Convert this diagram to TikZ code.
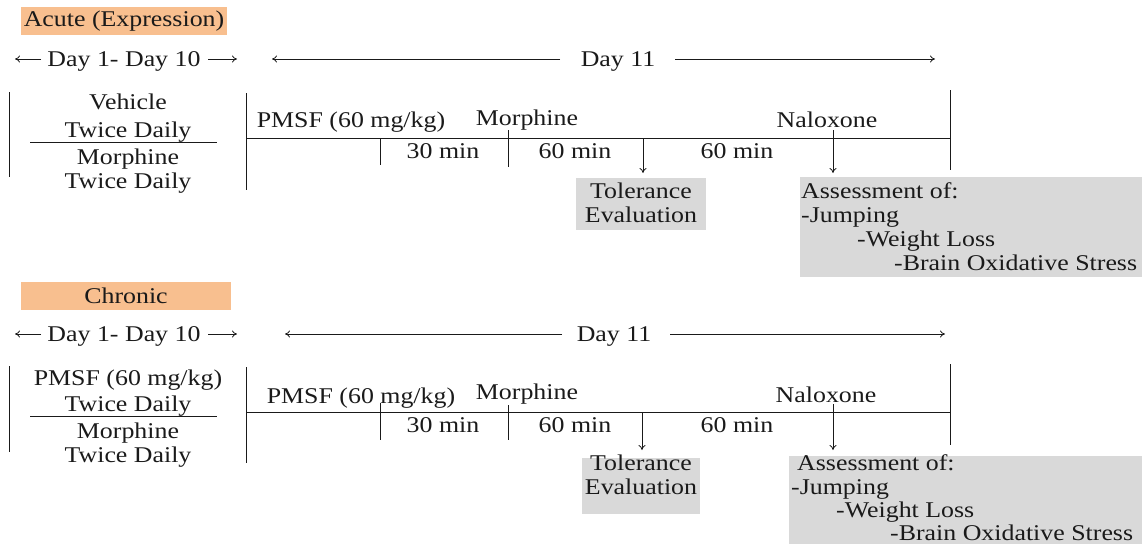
\documentclass[tikz,border=0pt]{standalone}
\usepackage{fontspec}
\setmainfont{Liberation Serif}[FakeStretch=1.15]
\usetikzlibrary{arrows.meta}
\definecolor{labor}{HTML}{F8BF8F}
\definecolor{boxgray}{HTML}{D9D9D9}
\definecolor{ink}{HTML}{1A1A1A}
\begin{document}
\begin{tikzpicture}[x=1pt,y=-1pt,
  txt/.style={inner sep=0pt, text=ink, font=\fontsize{22.5}{25}\selectfont, text height=15pt, text depth=1pt},
  lab/.style={fill=labor, inner sep=0pt, text=ink, font=\fontsize{22.5}{25}\selectfont},
  gbox/.style={fill=boxgray, draw=none},
  ln/.style={line width=1pt, draw=ink},
  arr/.style={line width=0.8pt, draw=ink, -{To[length=5pt,width=7pt]}}]
\useasboundingbox (0,0) rectangle (1142,544);

% ================= ACUTE =================
\node[lab, minimum width=206pt, minimum height=28pt] (acute) at (124,21) {Acute (Expression)};

\node[txt] (ad1) at (124,59) {Day 1- Day 10};
\coordinate (ad1l) at (15,59); \coordinate (ad1ls) at (41,59);
\coordinate (ad1r) at (237,59); \coordinate (ad1rs) at (208,59);
\draw[arr] (ad1ls) -- (ad1l);
\draw[arr] (ad1rs) -- (ad1r);

\node[txt] (ad11) at (618,59) {Day 11};
\coordinate (ad11l) at (272,59); \coordinate (ad11ls) at (560,59);
\coordinate (ad11r) at (935,59); \coordinate (ad11rs) at (675,59);
\draw[arr] (ad11ls) -- (ad11l);
\draw[arr] (ad11rs) -- (ad11r);

\coordinate (av0a) at (9,92); \coordinate (av0b) at (9,177);
\draw[ln] (av0a) -- (av0b);
\node[txt] (aveh) at (128,102) {Vehicle};
\node[txt] (atd1) at (128,130) {Twice Daily};
\coordinate (asepa) at (30,142); \coordinate (asepb) at (217,142);
\draw[ln] (asepa) -- (asepb);
\node[txt] (amor) at (128,157) {Morphine};
\node[txt] (atd2) at (128,181) {Twice Daily};

\coordinate (av1a) at (246,93); \coordinate (av1b) at (246,190);
\draw[ln] (av1a) -- (av1b);
\coordinate (atl0) at (246,138); \coordinate (atl1) at (950,138);
\draw[ln] (atl0) -- (atl1);

\node[txt] (apmsf) at (351,120) {PMSF (60 mg/kg)};
\coordinate (at1a) at (380,138); \coordinate (at1b) at (380,165);
\draw[ln] (at1a) -- (at1b);
\node[txt] (a30) at (443,151) {30 min};
\node[txt] (amorph) at (527,118) {Morphine};
\coordinate (at2a) at (508,130); \coordinate (at2b) at (508,167);
\draw[ln] (at2a) -- (at2b);
\node[txt] (a60a) at (575,151) {60 min};

\node[gbox, minimum width=130pt, minimum height=52pt] (atolb) at (641,204) {};
\node[txt] (atol1) at (641,191) {Tolerance};
\node[txt] (atol2) at (641,215) {Evaluation};
\coordinate (aarr1) at (643,138); \coordinate (aarr1e) at (643,173);
\draw[arr] (aarr1) -- (aarr1e);

\node[txt] (a60b) at (737,151) {60 min};
\node[txt] (anal) at (827,120) {Naloxone};
\coordinate (aarr2) at (833,130); \coordinate (aarr2e) at (833,173);
\draw[arr] (aarr2) -- (aarr2e);
\coordinate (av2a) at (950,90); \coordinate (av2b) at (950,170);
\draw[ln] (av2a) -- (av2b);

\node[gbox, anchor=north west, minimum width=342pt, minimum height=100pt] (aassb) at (800,177) {};
\node[txt, anchor=west] (aas1) at (801,191) {Assessment of:};
\node[txt, anchor=west] (aas2) at (801,215) {-Jumping};
\node[txt, anchor=west] (aas3) at (857,239) {-Weight Loss};
\node[txt, anchor=west] (aas4) at (894,263) {-Brain Oxidative Stress};

% ================= CHRONIC =================
\node[lab, minimum width=210pt, minimum height=28pt] (chron) at (126,296) {Chronic};

\node[txt] (cd1) at (124,334) {Day 1- Day 10};
\coordinate (cd1l) at (15,334); \coordinate (cd1ls) at (41,334);
\coordinate (cd1r) at (237,334); \coordinate (cd1rs) at (208,334);
\draw[arr] (cd1ls) -- (cd1l);
\draw[arr] (cd1rs) -- (cd1r);

\node[txt] (cd11) at (614,334) {Day 11};
\coordinate (cd11l) at (285,334); \coordinate (cd11ls) at (562,334);
\coordinate (cd11r) at (945,334); \coordinate (cd11rs) at (670,334);
\draw[arr] (cd11ls) -- (cd11l);
\draw[arr] (cd11rs) -- (cd11r);

\coordinate (cv0a) at (9,366); \coordinate (cv0b) at (9,452);
\draw[ln] (cv0a) -- (cv0b);
\node[txt] (cpm) at (128,378) {PMSF (60 mg/kg)};
\node[txt] (ctd1) at (128,404) {Twice Daily};
\coordinate (csepa) at (30,416); \coordinate (csepb) at (217,416);
\draw[ln] (csepa) -- (csepb);
\node[txt] (cmor) at (128,431) {Morphine};
\node[txt] (ctd2) at (128,455) {Twice Daily};

\coordinate (cv1a) at (246,367); \coordinate (cv1b) at (246,463);
\draw[ln] (cv1a) -- (cv1b);
\coordinate (ctl0) at (246,412); \coordinate (ctl1) at (950,412);
\draw[ln] (ctl0) -- (ctl1);

\node[txt] (cpmsf) at (361,396) {PMSF (60 mg/kg)};
\coordinate (ct1a) at (380,403); \coordinate (ct1b) at (380,440);
\draw[ln] (ct1a) -- (ct1b);
\node[txt] (c30) at (443,425) {30 min};
\node[txt] (cmorph) at (527,392) {Morphine};
\coordinate (ct2a) at (508,405); \coordinate (ct2b) at (508,440);
\draw[ln] (ct2a) -- (ct2b);
\node[txt] (c60a) at (575,425) {60 min};

\node[gbox, minimum width=118pt, minimum height=56pt] (ctolb) at (641,486) {};
\node[txt] (ctol1) at (641,463) {Tolerance};
\node[txt] (ctol2) at (641,487) {Evaluation};
\coordinate (carr1) at (642,412); \coordinate (carr1e) at (642,450);
\draw[arr] (carr1) -- (carr1e);

\node[txt] (c60b) at (737,425) {60 min};
\node[txt] (cnal) at (826,395) {Naloxone};
\coordinate (carr2) at (833,404); \coordinate (carr2e) at (833,450);
\draw[arr] (carr2) -- (carr2e);
\coordinate (cv2a) at (950,364); \coordinate (cv2b) at (950,445);
\draw[ln] (cv2a) -- (cv2b);

\node[gbox, anchor=north west, minimum width=353pt, minimum height=88pt] (cassb) at (789,456) {};
\node[txt, anchor=west] (cas1) at (797,463) {Assessment of:};
\node[txt, anchor=west] (cas2) at (791,487) {-Jumping};
\node[txt, anchor=west] (cas3) at (836,510) {-Weight Loss};
\node[txt, anchor=west] (cas4) at (890,533) {-Brain Oxidative Stress};
\end{tikzpicture}
\end{document}
